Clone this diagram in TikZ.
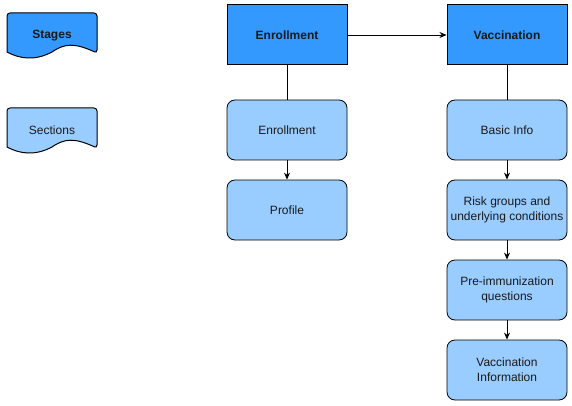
\documentclass[tikz,border=0pt]{standalone}
\usepackage{fontspec}
\setmainfont{Liberation Sans}
\usetikzlibrary{arrows.meta}
\definecolor{stagefill}{HTML}{3399FF}
\definecolor{secfill}{HTML}{99CCFF}
\definecolor{txt}{HTML}{1A1A1A}
\begin{document}
\begin{tikzpicture}[x=1pt,y=-1pt,
  stagebox/.style={draw=black,line width=1pt,fill=stagefill,minimum width=120pt,minimum height=60pt,inner sep=0pt,font=\fontsize{12}{14}\selectfont\bfseries,text=txt},
  secbox/.style={draw=black,line width=0.8pt,fill=secfill,rounded corners=8pt,minimum width=120pt,minimum height=60pt,inner sep=0pt,align=center,font=\fontsize{12}{15}\selectfont,text=txt},
  conn/.style={line width=0.8pt,draw=black},
  arr/.style={conn,-{Stealth[length=7pt,width=6pt]}},
  doc/.style={draw=black,line width=1pt,rounded corners=3pt}
]
\useasboundingbox (0,0) rectangle (572,406);
% legend
\path[doc,fill=stagefill] (7,52) -- (7,13) -- (97,13) -- (97,53) [sharp corners] .. controls (75,43) and (65,43) .. (52,52) .. controls (35,61) and (20,59) .. (7,52) -- cycle;
\node[font=\fontsize{12}{14}\selectfont\bfseries,text=txt] (lstage) at (52,36) {Stages};
\path[doc,fill=secfill] (7,147) -- (7,108) -- (97,108) -- (97,148) [sharp corners] .. controls (75,138) and (65,138) .. (52,147) .. controls (35,156) and (20,154) .. (7,147) -- cycle;
\node[font=\fontsize{12}{14}\selectfont,text=txt] (lsec) at (52,130) {Sections};
% stages
\node[stagebox] (enr) at (287,35) {Enrollment};
\node[stagebox] (vac) at (507,35) {Vaccination};
% sections
\node[secbox] (enrs) at (287,130) {Enrollment};
\node[secbox] (prof) at (287,210) {Profile};
\node[secbox] (basic) at (507,130) {Basic Info};
\node[secbox] (risk) at (507,210) {Risk groups and\\underlying conditions};
\node[secbox] (pre) at (507,290) {Pre-immunization\\questions};
\node[secbox] (vinfo) at (507,370) {Vaccination\\Information};
% connectors
\draw[arr] (enr) -- (vac);
\draw[conn] (enr) -- (enrs);
\draw[conn] (vac) -- (basic);
\draw[arr] (enrs) -- (prof);
\draw[arr] (basic) -- (risk);
\draw[arr] (risk) -- (pre);
\draw[arr] (pre) -- (vinfo);
\end{tikzpicture}
\end{document}
